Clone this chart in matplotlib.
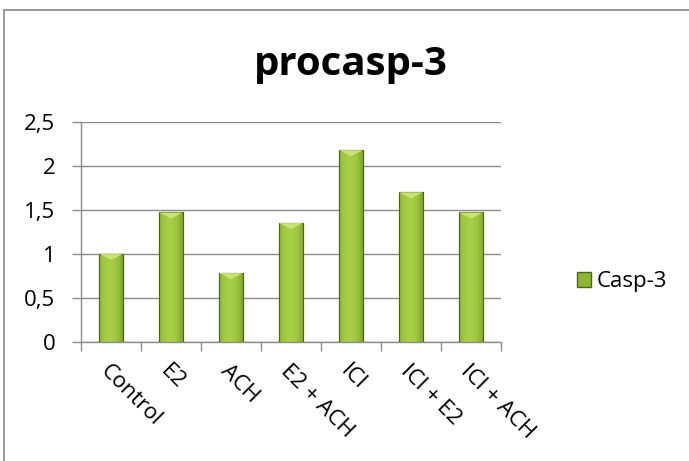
import numpy as np
import matplotlib
matplotlib.use("Agg")
import matplotlib.pyplot as plt
from matplotlib.patches import Rectangle, Polygon, Patch
from matplotlib.colors import LinearSegmentedColormap
from matplotlib.ticker import FuncFormatter

categories = ["Control", "E2", "ACH", "E2 + ACH", "ICI", "ICI + E2", "ICI + ACH"]
values = [1.0, 1.47, 0.78, 1.35, 2.18, 1.70, 1.47]
series_name = "Casp-3"
title = "procasp-3"

plt.rcParams['font.family'] = ['Open Sans', 'DejaVu Sans']

fig = plt.figure(figsize=(6.89, 4.61), dpi=100)
# outer chart frame (runs past the right/bottom edge in the reference)
fig.patches.append(Rectangle((4/689, -0.1), 1.2, 1 - 10/461 + 0.1, transform=fig.transFigure,
                             fill=False, edgecolor="#888888", lw=1.2))

ax = fig.add_axes([81/689, 1 - 341.5/461, 420/689, (341.5 - 122)/461])
x = np.arange(len(categories))
w = 0.4

# bar body gradient: dark edges, light center
cmap = LinearSegmentedColormap.from_list("g", ["#4f6e12", "#7fa52a", "#9cc43e", "#a9cf48"])
grad = np.linspace(0, 1, 64)
shade = 1 - 0.55 * np.abs(grad - 0.45) ** 1.2 * 2
img = np.tile(shade, (2, 1))

for xi, v in zip(x, values):
    ax.bar(xi, v, width=w, color="#8cb734", edgecolor="#4a6610", lw=0.8, zorder=3)
    ax.imshow(img, cmap=cmap, vmin=0.2, vmax=1, aspect="auto",
              extent=(xi - w/2, xi + w/2, 0, v), zorder=3.5, interpolation="bilinear")
    ax.add_patch(Rectangle((xi - w/2, 0), w, v, fill=False, edgecolor="#4a6610", lw=0.8, zorder=4))
    # bevel on top
    ax.add_patch(Polygon([(xi - w/2, v), (xi + w/2, v), (xi, v - 0.07)], closed=True,
                         facecolor="#cde57a", edgecolor="none", zorder=4, alpha=0.9))

ax.set_xlim(-0.5, len(categories) - 0.5)
ax.set_ylim(0, 2.5)
ax.set_yticks(np.arange(0, 2.51, 0.5))
ax.yaxis.set_major_formatter(FuncFormatter(lambda v, p: ("%g" % v).replace(".", ",")))
ax.grid(axis="y", color="#8c8c8c", lw=1, zorder=0)
ax.set_axisbelow(True)

ax.set_xticks(x)
ax.set_xticklabels(categories, rotation=-45, ha="left", va="top", rotation_mode="anchor",
                   fontsize=16)
ax.tick_params(axis="x", length=0, pad=14)
ax.set_xticks(np.arange(-0.5, len(categories), 1), minor=True)
ax.tick_params(axis="x", which="minor", length=6.5, color="#8c8c8c", width=1)
ax.tick_params(axis="y", length=6.5, color="#8c8c8c", width=1, labelsize=16, pad=12)

for s in ["top", "right"]:
    ax.spines[s].set_visible(False)
for s in ["left", "bottom"]:
    ax.spines[s].set_color("#8c8c8c")
    ax.spines[s].set_linewidth(1)

fig.text(351/689, 1 - 75/461, title, ha="center", va="baseline", fontsize=29, fontweight="bold")

fig.legend(handles=[Patch(facecolor="#8cb734", edgecolor="#4a6610", label=series_name)],
           loc="center left", bbox_to_anchor=(577/689, 1 - 282/461), frameon=False,
           fontsize=16, handlelength=0.63, handleheight=0.63, handletextpad=0.27,
           borderpad=0, borderaxespad=0)

fig.savefig("out.png", dpi=100)
